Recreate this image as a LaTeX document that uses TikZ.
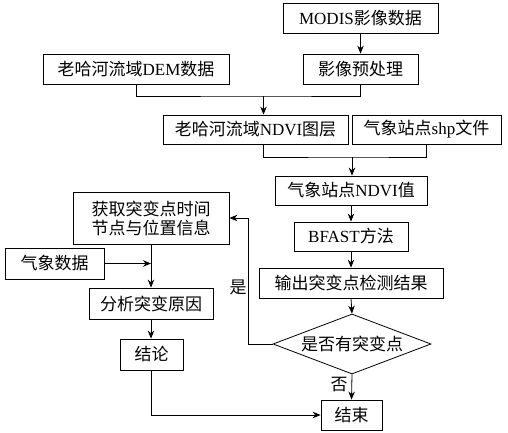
\documentclass[tikz,border=0pt]{standalone}
\usepackage{fontspec}
\setmainfont{Liberation Serif}
\newfontfamily\cjkfam{Noto Sans CJK SC}
\newcommand{\zh}[1]{{\cjkfam #1}}
\usetikzlibrary{shapes.geometric,arrows.meta,calc}
\tikzset{
  box/.style={draw,line width=0.8pt,inner sep=0pt,font=\fontsize{17}{20}\selectfont},
  dia/.style={draw,line width=0.8pt,diamond,aspect=2.63,inner sep=0pt,minimum width=158pt,minimum height=60pt,font=\fontsize{17}{20}\selectfont},
  conn/.style={line width=0.8pt},
  arr/.style={line width=0.8pt,-{Stealth[length=8pt,width=6.5pt]}},
  lbl/.style={font=\cjkfam\fontsize{17}{20}\selectfont,inner sep=0pt}
}
\begin{document}
\begin{tikzpicture}[x=1pt,y=-1pt]
\useasboundingbox (0,0) rectangle (508,433);
\node[box,minimum width=155pt,minimum height=30pt] (modis) at (360.5,18) {MODIS\zh{影像数据}};
\node[box,minimum width=186pt,minimum height=30pt] (dem) at (136,69) {\zh{老哈河流域}DEM\zh{数据}};
\node[box,minimum width=115pt,minimum height=30pt] (pre) at (360.5,69) {\zh{影像预处理}};
\node[box,minimum width=185pt,minimum height=29pt] (layer) at (255.5,129.5) {\zh{老哈河流域}NDVI\zh{图层}};
\node[box,minimum width=149pt,minimum height=29pt] (shp) at (426.5,129.5) {\zh{气象站点}shp\zh{文件}};
\node[box,minimum width=152pt,minimum height=29pt] (val) at (351,190.5) {\zh{气象站点}NDVI\zh{值}};
\node[box,minimum width=114pt,minimum height=29pt] (bfast) at (351,236.5) {BFAST\zh{方法}};
\node[box,minimum width=184pt,minimum height=30pt] (out) at (351,283) {\zh{输出突变点检测结果}};
\node[dia] (dec) at (352,344) {\zh{是否有突变点}};
\node[box,minimum width=156pt,minimum height=52pt,align=center] (get) at (151,218) {\zh{获取突变点时间}\\[-1pt]\zh{节点与位置信息}};
\node[box,minimum width=99pt,minimum height=31pt] (met) at (54.5,263.5) {\zh{气象数据}};
\node[box,minimum width=124pt,minimum height=31pt] (ana) at (151,303.5) {\zh{分析突变原因}};
\node[box,minimum width=63pt,minimum height=31pt] (con) at (151.5,354.5) {\zh{结论}};
\node[box,minimum width=61pt,minimum height=30pt] (fin) at (351.5,415) {\zh{结束}};
% connectors
\draw[arr] (modis.south) -- (pre.north);
\coordinate (m1) at (263.5,96);
\draw[conn] (dem.south) |- (m1) -| (pre.south);
\draw[arr] (m1) -- (m1 |- layer.north);
\coordinate (l1) at (263.5,144);
\coordinate (m2) at (352,157);
\draw[conn] (l1) |- (m2) -| (shp.south);
\draw[arr] (m2) -- (m2 |- val.north);
\draw[arr] (val.south) -- (bfast.north);
\draw[arr] (bfast.south) -- (out.north);
\draw[arr] (out.south) -- (dec.north);
\coordinate (y1) at (248,344);
\draw[arr] (dec.west) -- (y1) |- (get.east);
\node[lbl] (yes) at (238,287) {是};
\draw[arr] (dec.south) -- (fin.north);
\node[lbl] (no) at (339,385) {否};
\draw[arr] (get.south) -- (ana.north);
\coordinate (j1) at (get.south |- met.east);
\draw[arr] (met.east) -- (j1);
\draw[arr] (ana.south) -- (ana.south |- con.north);
\draw[arr] (con.south) |- (fin.west);
\end{tikzpicture}
\end{document}
